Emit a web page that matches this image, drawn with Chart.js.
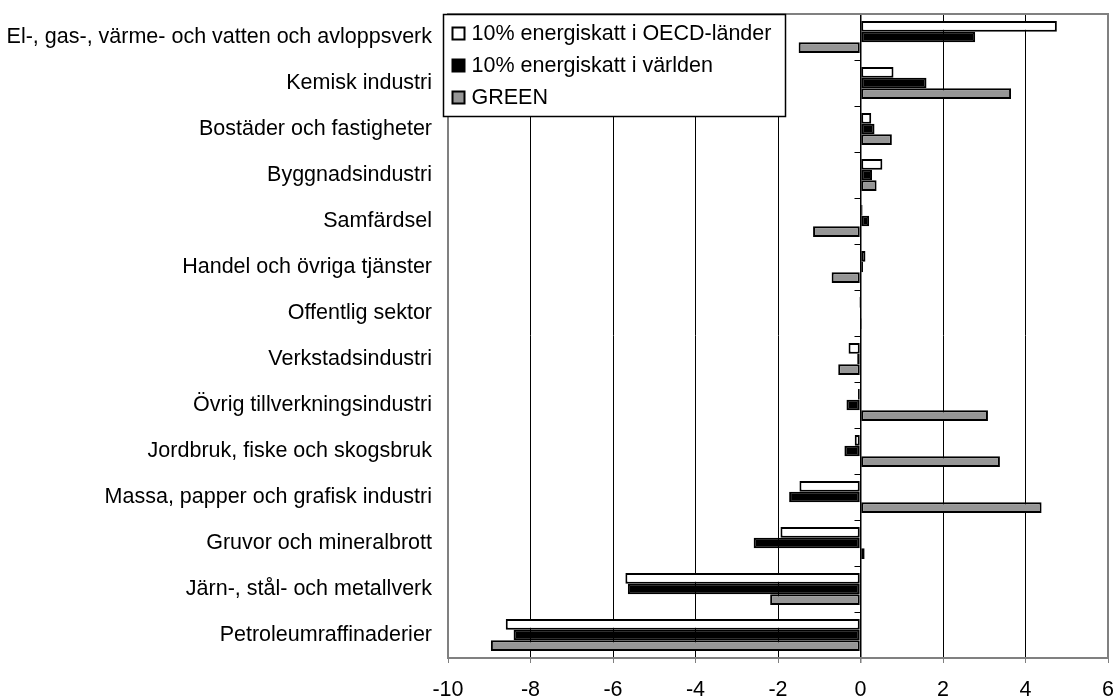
<!DOCTYPE html>
<html lang="sv">
<head>
<meta charset="utf-8">
<script src="https://cdn.jsdelivr.net/npm/chart.js@4.4.1/dist/chart.umd.min.js"></script>
<style>
  html, body { margin: 0; padding: 0; background: #ffffff; }
  #wrap { width: 1119px; height: 698px; }
</style>
</head>
<body>
<div id="wrap"><canvas id="c" width="1119" height="698"></canvas></div>
<script>
// Sectors (top to bottom)
const categories = [
  'El-, gas-, värme- och vatten och avloppsverk',
  'Kemisk industri',
  'Bostäder och fastigheter',
  'Byggnadsindustri',
  'Samfärdsel',
  'Handel och övriga tjänster',
  'Offentlig sektor',
  'Verkstadsindustri',
  'Övrig tillverkningsindustri',
  'Jordbruk, fiske och skogsbruk',
  'Massa, papper och grafisk industri',
  'Gruvor och mineralbrott',
  'Järn-, stål- och metallverk',
  'Petroleumraffinaderier'
];

// Effects per sector (%)
const oecdTax  = [4.76, 0.80, 0.26, 0.53, 0.05, 0.12, -0.03, -0.29, -0.06, -0.14, -1.48, -1.94, -5.70, -8.60];
const worldTax = [2.78, 1.60, 0.34, 0.28, 0.21, 0.06, 0.02, -0.08, -0.34, -0.39, -1.73, -2.59, -5.64, -8.41];
const green    = [-1.50, 3.65, 0.76, 0.39, -1.15, -0.70, 0.03, -0.54, 3.09, 3.38, 4.39, 0.10, -2.19, -8.96];

const seriesNames = ['10% energiskatt i OECD-länder', '10% energiskatt i världen', 'GREEN'];
const seriesFill  = ['#ffffff', '#000000', '#969696'];

const xTicks = [-10, -8, -6, -4, -2, 0, 2, 4, 6];

const FONT = 'Liberation Sans, Arial, Helvetica, sans-serif';
const FONT_SIZE = 21.5;

// Grey frame round the plot area
const framePlugin = {
  id: 'frame',
  beforeDatasetsDraw(chart) {
    const { ctx, chartArea: a } = chart;
    ctx.save();
    ctx.strokeStyle = '#808080';
    ctx.lineWidth = 2;
    ctx.strokeRect(a.left, a.top, a.right - a.left, a.bottom - a.top);
    ctx.restore();
  }
};

// Small tick marks on the zero line between the sectors
const zeroTicksPlugin = {
  id: 'zeroTicks',
  afterDatasetsDraw(chart) {
    const { ctx, scales: { x, y } } = chart;
    const x0 = x.getPixelForValue(0);
    ctx.save();
    ctx.strokeStyle = '#000000';
    ctx.lineWidth = 1;
    for (let i = 0; i < categories.length - 1; i++) {
      const yb = (y.getPixelForValue(i) + y.getPixelForValue(i + 1)) / 2;
      ctx.beginPath();
      ctx.moveTo(x0 - 6, Math.round(yb) + 0.5);
      ctx.lineTo(x0, Math.round(yb) + 0.5);
      ctx.stroke();
    }
    ctx.restore();
  }
};

// Boxed legend in the upper left corner of the plot
const boxLegendPlugin = {
  id: 'boxLegend',
  afterDraw(chart) {
    const { ctx } = chart;
    const left = 443.5, top = 14.5, w = 342, h = 102;
    ctx.save();
    ctx.fillStyle = '#ffffff';
    ctx.fillRect(left, top, w, h);
    ctx.strokeStyle = '#000000';
    ctx.lineWidth = 1.5;
    ctx.strokeRect(left, top, w, h);
    ctx.font = FONT_SIZE + 'px ' + FONT;
    ctx.textBaseline = 'middle';
    chart.data.datasets.forEach((ds, i) => {
      const cy = top + 19 + i * 32;
      ctx.fillStyle = ds.backgroundColor;
      ctx.fillRect(left + 9, cy - 6, 12, 12);
      ctx.strokeStyle = '#000000';
      ctx.lineWidth = 2;
      ctx.strokeRect(left + 9, cy - 6, 12, 12);
      ctx.fillStyle = '#000000';
      ctx.fillText(ds.label, left + 28, cy + 1);
    });
    ctx.restore();
  }
};

const datasets = [oecdTax, worldTax, green].map((vals, i) => ({
  label: seriesNames[i],
  data: vals,
  backgroundColor: seriesFill[i],
  borderColor: '#000000',
  borderWidth: 2,
  borderSkipped: false,
  categoryPercentage: 0.7,
  barPercentage: 1.0
}));

new Chart(document.getElementById('c'), {
  type: 'bar',
  data: { labels: categories, datasets },
  options: {
    indexAxis: 'y',
    responsive: false,
    animation: false,
    devicePixelRatio: 1,
    layout: { padding: { top: 14, right: 11, bottom: 0, left: 0 } },
    plugins: {
      legend: { display: false },
      tooltip: { enabled: false }
    },
    scales: {
      x: {
        type: 'linear',
        min: xTicks[0],
        max: xTicks[xTicks.length - 1],
        afterBuildTicks(scale) { scale.ticks = xTicks.map(v => ({ value: v })); },
        afterFit(scale) {
          scale.height = 40;
          scale.paddingLeft = 0;
          scale.paddingRight = 0;
        },
        grid: {
          color(ctx) {
            const v = ctx.tick && ctx.tick.value;
            return (v === xTicks[0] || v === xTicks[xTicks.length - 1]) ? 'rgba(0,0,0,0)' : '#000000';
          },
          lineWidth(ctx) { return ctx.tick && ctx.tick.value === 0 ? 1.5 : 1; },
          tickColor: '#808080',
          tickLength: 5,
          drawTicks: true
        },
        border: { color: '#808080', width: 2 },
        ticks: {
          color: '#000000',
          font: { family: FONT, size: FONT_SIZE },
          padding: 14,
          maxRotation: 0
        }
      },
      y: {
        position: 'left',
        afterFit(scale) {
          scale.width = 448;
          scale.paddingTop = 0;
          scale.paddingBottom = 0;
        },
        grid: { display: false, drawTicks: false },
        border: { display: false },
        ticks: {
          color: '#000000',
          font: { family: FONT, size: FONT_SIZE },
          padding: 16,
          autoSkip: false
        }
      }
    }
  },
  plugins: [framePlugin, zeroTicksPlugin, boxLegendPlugin]
});
</script>
</body>
</html>
